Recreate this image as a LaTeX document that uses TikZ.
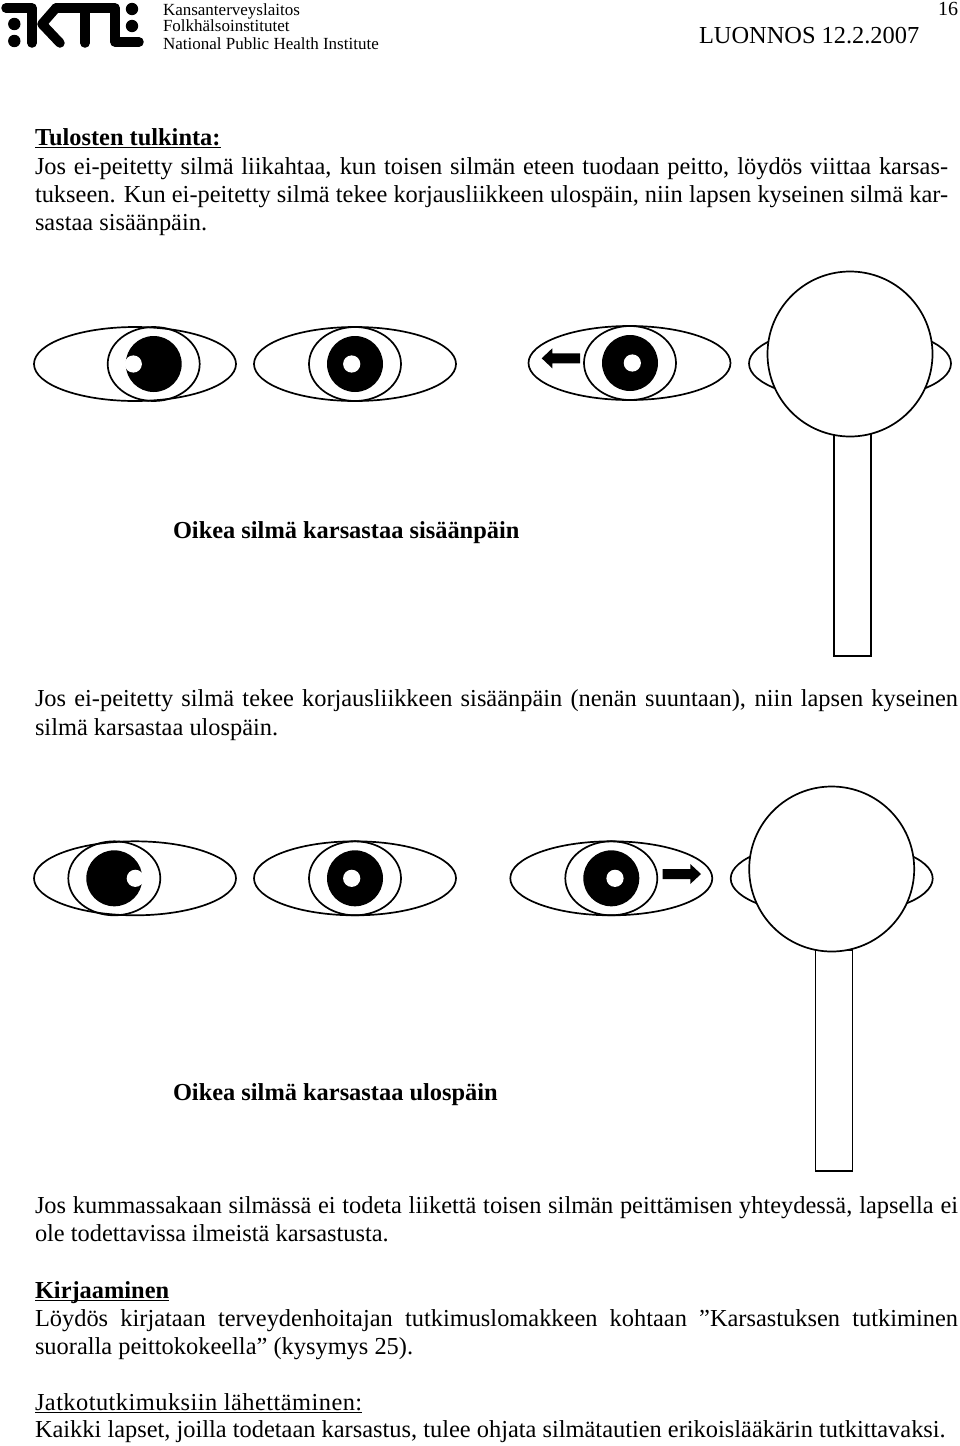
\documentclass[tikz,border=0pt]{standalone}
\usepackage{fontspec}
\setmainfont{Liberation Serif}
\newcommand{\bodysize}{\fontsize{24.4}{28}\selectfont}
\newcommand{\underlined}[1]{\setbox0\hbox{#1}\rlap{\rule[-2.8pt]{\wd0}{1.3pt}}\box0}
% one eye: white, iris, pupil, glint
\newcommand{\eyeshape}[4]{%
\draw[outline] (#1,#2) ellipse (101 and 37);
\draw[outline] (#3,#2) ellipse (46 and 37);
\fill (#3,#2) circle (28);
\fill[white] (#4,#2) circle (8.6);
}
% one head seen from above: neck, ears, skull
\newcommand{\headshape}[4]{%
\draw[outline] (#1-16.2,#3) rectangle (#1+20.8,#4);
\draw[outline] (#1,#2+9.5) ellipse (101 and 37);
\draw[outline,fill=white] (#1,#2) circle (82.5);
}
\begin{document}
\begin{tikzpicture}[x=1pt,y=-1pt,inner sep=0pt,outer sep=0pt,
outline/.style={draw,line width=1.7pt},
textline/.style={anchor=base west,font=\bodysize},
captionline/.style={anchor=base west,font=\bodysize\bfseries},
headerline/.style={anchor=base west,font=\fontsize{17}{18}\selectfont},
logostroke/.style={line width=9.5pt,line cap=round,line join=round}]
\useasboundingbox (0,0) rectangle (960,1446);
% logo
\draw[logostroke] (6,8) -- (32,8) -- (32,43);
\fill (14.3,24) circle (6.2);
\fill (14.3,41) circle (6.2);
\draw[logostroke] (56,8) -- (42,24) -- (60,43);
\draw[logostroke] (56,8) -- (115,8) -- (115,42) -- (139,42);
\draw[logostroke] (85,8) -- (85,43);
\fill (132,9) circle (6.2);
\fill (132,26) circle (6.2);
% page header
\node[headerline] (inst1) at (163,15) {Kansanterveyslaitos};
\node[headerline] (inst2) at (163,31) {Folkhälsoinstitutet};
\node[headerline] (inst3) at (163,49) {National Public Health Institute};
\node[textline] (draftmark) at (699,43) {LUONNOS 12.2.2007};
\node[anchor=base east,font=\fontsize{20}{20}\selectfont] (pagenum) at (958,15) {16};
% first text block
\node[textline] (heading) at (35,145) {\underlined{\textbf{Tulosten tulkinta:}}};
\node[textline] (para1a) at (35,174) {\hbox to 913pt{Jos ei-peitetty silmä liikahtaa, kun toisen silmän eteen tuodaan peitto, löydös viittaa karsas-}};
\node[textline] (para1b) at (35,202) {\hbox to 913pt{tukseen. Kun ei-peitetty silmä tekee korjausliikkeen ulospäin, niin lapsen kyseinen silmä kar-}};
\node[textline] (para1c) at (35,230) {sastaa sisäänpäin.};
% inward squint
\eyeshape{135}{364}{153.7}{133.3}
\eyeshape{355}{364}{355}{351.7}
\eyeshape{629.5}{363}{630}{632.3}
\fill (541.7,358.3) -- (552.3,348.3) -- (552.3,353.3) -- (580,353.3) -- (580,363.3) -- (552.3,363.3) -- (552.3,368.3) -- cycle;
\headshape{850}{354}{434}{656}
\node[captionline] (caption1) at (173,538) {Oikea silmä karsastaa sisäänpäin};
\node[textline] (para2a) at (35,706) {\hbox to 923pt{Jos ei-peitetty silmä tekee korjausliikkeen sisäänpäin (nenän suuntaan), niin lapsen kyseinen}};
\node[textline] (para2b) at (35,735) {silmä karsastaa ulospäin.};
% outward squint
\eyeshape{135}{878.3}{114.3}{135.3}
\eyeshape{355}{878.3}{355}{351.7}
\eyeshape{611.3}{878.3}{611.3}{615}
\fill (701,874) -- (690.3,864) -- (690.3,869) -- (662.7,869) -- (662.7,879) -- (690.3,879) -- (690.3,884) -- cycle;
\headshape{831.7}{869}{950}{1171}
\node[captionline] (caption2) at (173,1100) {Oikea silmä karsastaa ulospäin};
\node[textline] (para3a) at (35,1213) {\hbox to 923pt{Jos kummassakaan silmässä ei todeta liikettä toisen silmän peittämisen yhteydessä, lapsella ei}};
\node[textline] (para3b) at (35,1241) {ole todettavissa ilmeistä karsastusta.};
% closing sections
\node[textline] (record) at (35,1298) {\underlined{\textbf{Kirjaaminen}}};
\node[textline] (para4a) at (35,1326) {\hbox to 923pt{Löydös kirjataan terveydenhoitajan tutkimuslomakkeen kohtaan ”Karsastuksen tutkiminen}};
\node[textline] (para4b) at (35,1354) {suoralla peittokokeella” (kysymys 25).};
\node[textline] (referral) at (35,1410) {\underlined{\addfontfeature{LetterSpace=1.9}Jatkotutkimuksiin lähettäminen:}};
\node[textline] (para5) at (35,1437) {Kaikki lapset, joilla todetaan karsastus, tulee ohjata silmätautien erikoislääkärin tutkittavaksi.};
\end{tikzpicture}
\end{document}
